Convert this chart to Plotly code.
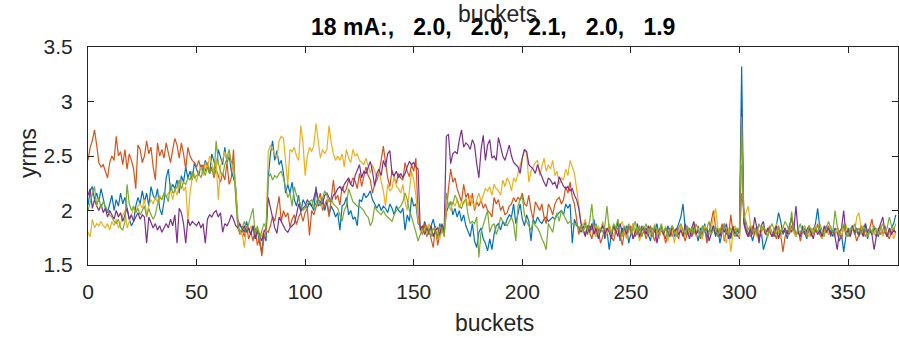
import plotly.graph_objects as go

# yrms per bucket for five current settings
blue = [
    2.05, 2.18, 2.22, 2.10, 2.16, 2.08, 2.20, 2.12, 2.02, 1.98,
    2.06, 2.14, 2.00, 2.10, 2.04, 2.16, 2.06, 2.12, 2.02, 1.92,
    1.86, 1.90, 2.04, 2.12, 2.06, 2.18, 2.08, 2.16, 2.04, 2.22,
    2.14, 2.10, 2.20, 2.02, 1.96, 2.08, 2.30, 2.38, 2.18, 2.24,
    2.20, 2.28, 2.16, 2.32, 2.26, 2.40, 2.30, 2.36, 2.28, 2.44,
    2.38, 2.32, 2.42, 2.36, 2.46, 2.40, 2.34, 2.52, 2.44, 2.38,
    2.56, 2.48, 2.42, 2.58, 2.44, 2.50, 2.36, 2.30, 2.22,
    1.92, 1.86, 1.84, 1.80, 1.90, 1.82, 1.78, 1.86, 1.74, 1.82, 1.70, 1.62, 1.78, 1.72,
    2.30, 2.52, 2.64, 2.46, 2.55, 2.42, 2.46, 2.34, 2.16, 2.24,
    2.16, 2.26, 2.10, 2.04, 2.14, 1.98, 2.10, 2.06, 2.02, 2.08,
    2.04, 2.00, 2.22, 2.04, 2.06, 2.12, 2.00, 2.08, 1.96, 2.04,
    2.00, 1.94, 1.98, 1.82, 2.04, 2.06, 2.12, 1.96, 2.00, 1.92,
    1.94, 1.86, 2.10, 2.08, 2.16, 2.12, 2.14, 2.18, 2.10, 2.06,
    2.02, 2.06, 2.00, 2.04, 2.02, 1.98, 2.06, 2.02, 1.96, 2.04,
    2.00, 1.98, 2.02, 1.82, 1.96, 1.90, 2.12, 2.04, 2.06, 1.88,
    1.86, 1.80, 1.90, 1.84, 1.78, 1.86, 1.92, 1.82, 1.76, 1.88, 1.80, 1.84,
    1.98, 2.04, 2.08, 1.96, 2.02, 1.94, 2.00, 1.90, 1.96, 1.86,
    1.80, 1.76, 1.88, 1.72, 1.66, 1.80, 1.84, 1.74, 1.70, 1.63,
    1.74, 1.64, 1.78, 1.86, 1.88, 1.82, 1.90, 1.86, 1.92, 1.96,
    1.94, 2.06, 1.88, 1.98, 2.06, 1.92, 1.86, 1.96, 1.90, 1.72,
    1.92, 1.88, 1.94, 1.90, 1.88, 1.92, 1.94, 1.90, 1.92, 1.94,
    1.92, 1.96, 1.98, 2.00, 1.96, 2.06, 2.02, 2.06, 1.70, 1.92,
    1.86, 1.84, 1.80,
    1.84, 1.90, 1.78, 1.86, 1.82, 1.92, 1.76, 1.84, 1.80, 1.88,
    1.74, 1.82, 1.64, 1.78, 1.86, 1.80, 1.90, 1.72, 1.84, 1.78,
    1.86, 1.70, 1.80, 1.88, 1.76, 1.82, 1.74, 1.86, 1.80, 1.84,
    1.78, 1.72, 1.84, 1.80, 1.88, 1.76, 1.82, 1.78, 1.74, 1.86,
    1.80, 1.84, 1.76, 1.82, 1.88, 1.94, 2.06, 1.84, 1.78, 1.82,
    1.76, 1.86, 1.80, 1.72, 1.84, 1.78, 1.88, 1.74, 1.82, 1.80,
    1.86, 1.76, 1.84, 1.70, 1.80, 1.88, 1.78, 1.82, 1.74, 1.86,
    1.80, 1.76, 1.84,
    3.32,
    1.90, 1.84, 1.76, 1.82, 1.72, 1.80, 1.86, 1.74, 1.82, 1.64,
    1.70, 1.78, 1.84, 1.80, 1.76, 1.86, 1.98, 1.90, 1.78, 1.82,
    1.74, 1.84, 1.80, 1.88, 1.76, 1.82, 1.78, 1.86, 1.80, 1.74,
    1.84, 1.78, 1.82, 1.88, 2.02, 1.84, 1.76, 1.80, 1.86, 1.78,
    1.82, 1.76, 1.84, 1.80, 1.72, 1.78, 1.62, 1.76, 1.84, 1.80,
    1.86, 1.78, 1.82, 1.76, 1.84, 1.80, 1.88, 1.74, 1.82, 1.78,
    1.84, 1.80, 1.76, 1.86, 1.78, 1.82, 1.76, 1.80, 1.84, 1.88, 1.96,
]

orange = [
    2.46, 2.58, 2.64, 2.74, 2.60, 2.44, 2.40, 2.42, 2.36, 2.30,
    2.44, 2.50, 2.46, 2.68, 2.50, 2.54, 2.42, 2.56, 2.38, 2.52,
    2.46, 2.38, 2.20, 2.60, 2.56, 2.44, 2.50, 2.64, 2.52, 2.58,
    2.40, 2.28, 2.62, 2.50, 2.56, 2.48, 2.62, 2.54, 2.44, 2.56,
    2.66, 2.60, 2.48, 2.62, 2.52, 2.38, 2.58, 2.50, 2.46, 2.44,
    2.40, 2.46, 2.38, 2.42, 2.36, 2.44, 2.34, 2.40, 2.30, 2.38,
    2.32, 2.26, 2.34, 2.28, 2.44, 2.24, 2.30, 2.56, 2.14,
    1.84, 1.78, 1.82, 1.76, 1.86, 1.74, 1.80, 1.72, 1.84, 1.68, 1.76, 1.58, 1.74, 1.82,
    1.80, 1.86, 1.95, 1.90, 2.00, 2.13, 1.90, 2.00, 1.94, 1.98,
    1.85, 1.92, 1.96, 1.87, 1.94, 1.98, 1.90, 1.98, 2.02, 1.77,
    2.00, 1.96, 2.03, 2.10, 2.16, 2.00, 2.06, 2.10, 1.94, 2.12,
    2.28, 2.10, 2.14, 2.05, 2.22, 2.16, 2.20, 2.28, 2.24, 2.30,
    2.27, 2.20, 2.34, 2.22, 2.30, 2.40, 2.32, 2.28, 2.16, 2.24,
    2.28, 2.34, 2.46, 2.59, 2.44, 2.30, 2.22, 2.37, 2.30, 2.25,
    2.34, 2.30, 2.28, 2.44, 2.36, 2.31, 2.42, 2.36, 2.48, 1.96,
    1.84, 1.78, 1.88, 1.76, 1.82, 1.74, 1.66, 1.86, 1.68, 1.78, 1.84, 1.76,
    2.02, 2.20, 2.38, 2.26, 2.30, 2.20, 2.14, 2.08, 2.24, 2.12,
    2.16, 2.04, 2.16, 2.00, 2.08, 2.04, 2.10, 2.02, 2.06, 2.00,
    1.98, 1.94, 2.12, 2.06, 2.10, 2.00, 2.04, 1.96, 1.98, 2.04,
    2.06, 2.12, 2.08, 2.12, 2.10, 2.16, 2.06, 2.04, 2.14, 2.00,
    1.92, 2.08, 2.04, 2.00, 2.06, 1.94, 1.88, 2.06, 2.02, 1.96,
    2.06, 2.10, 2.12, 2.06, 2.10, 2.22, 2.16, 2.26, 2.12, 2.06,
    1.92, 1.78, 1.86,
    1.82, 1.78, 1.86, 1.80, 1.74, 1.84, 1.78, 1.82, 1.70, 1.76,
    1.84, 1.80, 1.86, 1.76, 1.72, 1.80, 1.84, 1.78, 1.68, 1.80,
    1.76, 1.82, 1.86, 1.74, 1.80, 1.78, 1.84, 1.76, 1.82, 1.74,
    1.80, 1.86, 1.78, 1.72, 1.82, 1.76, 1.84, 1.80, 1.70, 1.78,
    1.84, 1.76, 1.82, 1.80, 1.74, 1.86, 1.78, 1.72, 1.80, 1.84,
    1.76, 1.82, 1.78, 1.86, 1.74, 1.80, 1.84, 1.70, 1.82, 1.90,
    2.00, 1.84, 1.76, 1.80, 1.88, 1.72, 1.82, 1.76, 1.96, 1.80,
    1.84, 1.78, 1.74,
    2.16,
    1.98, 1.84, 1.80, 1.76, 1.86, 1.78, 1.82, 1.74, 1.80, 1.84,
    1.78, 1.82, 1.86, 1.76, 1.80, 1.74, 1.84, 1.78, 1.62, 1.76,
    1.82, 1.78, 1.86, 1.80, 1.76, 1.84, 1.72, 1.80, 1.86, 1.78,
    1.82, 1.76, 1.84, 1.80, 1.88, 1.78, 1.74, 1.82, 1.80, 1.86,
    1.76, 1.82, 1.78, 1.84, 1.80, 1.74, 1.86, 1.78, 1.82, 1.76,
    1.84, 1.80, 1.72, 1.78, 1.86, 1.82, 1.76, 1.80, 1.84, 1.92,
    1.80, 1.76, 1.84, 1.78, 1.82, 1.86, 1.78, 1.74, 1.80, 1.84, 1.78,
]

yellow = [
    1.80, 1.76, 1.92, 1.84, 1.88, 1.86, 1.90, 1.86, 1.84, 1.88,
    1.82, 1.90, 1.86, 1.92, 1.84, 1.88, 1.96, 2.00, 1.84, 1.90,
    1.94, 2.02, 1.98, 2.04, 2.06, 2.02, 2.10, 1.96, 2.04, 2.10,
    2.06, 2.12, 2.08, 2.14, 2.10, 2.16, 2.12, 2.16, 2.18, 2.10,
    2.20, 2.14, 2.24, 2.28, 2.18, 2.22, 1.90, 2.16, 2.30, 2.34,
    2.26, 2.36, 2.40, 2.32, 2.44, 2.38, 2.50, 2.42, 2.36, 2.46,
    2.10, 2.40, 2.48, 2.54, 2.46, 2.52, 2.44, 2.38, 2.20,
    1.90, 1.80, 1.78, 1.66, 1.84, 1.80, 1.86, 1.82, 1.78, 1.84, 1.80, 1.76, 1.82, 1.80,
    2.54, 2.60, 2.56, 2.52, 2.48, 2.64, 2.68, 2.66, 2.46, 2.24,
    2.56, 2.54, 2.58, 2.50, 2.46, 2.78, 2.62, 2.32, 2.50, 2.58,
    2.54, 2.60, 2.80, 2.64, 2.48, 2.56, 2.52, 2.56, 2.78, 2.62,
    2.52, 2.46, 2.50, 2.46, 2.52, 2.40, 2.56, 2.48, 2.44, 2.56,
    2.50, 2.52, 2.46, 2.44, 2.42, 2.48, 2.40, 2.34, 2.42, 2.36,
    2.30, 2.36, 2.26, 2.18, 2.04, 2.24, 2.18, 2.20, 2.32, 2.22,
    2.20, 2.16, 2.24, 2.08, 2.00, 2.20, 2.36, 2.28, 2.14, 1.90,
    1.86, 1.80, 1.84, 1.78, 1.88, 1.82, 1.76, 1.84, 1.80, 1.74, 1.82, 1.78,
    2.02, 2.06, 2.00, 2.08, 2.04, 2.10, 2.02, 2.08, 2.06, 2.12,
    2.04, 2.14, 2.08, 2.02, 2.10, 2.16, 2.08, 2.14, 2.20, 2.18,
    2.22, 2.14, 2.24, 2.20, 2.18, 2.14, 2.28, 2.22, 2.30, 2.26,
    2.18, 2.30, 2.26, 2.34, 2.42, 2.48, 2.56, 2.52, 2.26, 2.36,
    2.40, 2.44, 2.46, 2.32, 2.40, 2.48, 2.36, 2.42, 2.38, 2.46,
    2.32, 2.36, 2.24, 2.30, 2.28, 2.38, 2.32, 2.46, 2.40, 2.34,
    2.20, 2.04, 1.90,
    1.86, 1.92, 1.82, 1.78, 1.88, 1.84, 1.76, 1.86, 1.80, 1.90,
    1.84, 1.78, 1.88, 1.82, 1.76, 1.84, 1.80, 1.86, 1.90, 1.80,
    1.74, 1.84, 1.80, 1.88, 1.78, 1.84, 1.72, 1.82, 1.86, 1.78,
    1.84, 1.76, 1.82, 1.88, 1.80, 1.74, 1.84, 1.78, 1.86, 1.72,
    1.80, 1.84, 1.70, 1.82, 1.78, 1.86, 1.80, 1.76, 1.84, 1.78,
    1.82, 1.88, 1.76, 1.84, 1.80, 1.74, 1.86, 1.82, 1.78, 1.84,
    1.92, 2.02, 1.84, 1.78, 1.82, 1.76, 1.70, 1.84, 1.62, 1.78,
    1.86, 1.80, 1.76,
    2.42,
    1.92, 1.98, 2.04, 1.88, 1.80, 1.84, 1.76, 1.82, 1.78, 1.86,
    1.80, 1.76, 1.84, 1.78, 1.82, 1.88, 1.80, 1.74, 1.86, 1.82,
    1.78, 1.84, 1.92, 1.80, 1.76, 1.84, 1.78, 1.82, 1.86, 1.80,
    1.76, 1.84, 1.80, 1.86, 1.78, 1.82, 1.74, 1.80, 1.84, 1.78,
    1.86, 1.80, 1.76, 1.84, 1.80, 1.78, 1.82, 1.88, 1.76, 1.82,
    1.86, 1.80, 1.94, 1.98, 1.84, 1.78, 1.82, 1.76, 1.84, 1.80,
    1.78, 1.84, 1.80, 1.86, 1.76, 1.82, 1.80, 1.78, 1.84, 1.74, 1.80,
]

purple = [
    2.14, 2.20, 2.02, 2.10, 2.04, 2.00, 2.06, 1.98, 2.02, 1.94,
    2.00, 1.96, 1.92, 2.00, 1.94, 1.98, 1.90, 1.96, 2.02, 1.92,
    1.96, 1.90, 1.94, 1.98, 1.92, 1.96, 1.94, 1.70, 1.94, 1.88,
    1.84, 1.88, 1.82, 1.86, 1.80, 1.84, 1.88, 1.84, 1.92, 1.86,
    1.96, 1.70, 2.02, 1.98, 1.88, 1.70, 1.92, 1.86, 1.90, 1.88,
    1.86, 1.90, 1.84, 1.88, 1.70, 1.92, 1.96, 1.94, 1.98, 2.00,
    1.94, 1.98, 1.80, 1.88, 1.86, 1.90, 1.96, 1.92, 1.86,
    1.84, 1.88, 1.82, 1.86, 1.80, 1.84, 1.78, 1.86, 1.74, 1.82, 1.78, 1.72, 1.80, 1.84,
    2.12, 2.02, 1.92, 1.84, 1.79, 1.94, 1.90, 1.86, 1.82, 1.80,
    1.84, 1.86, 1.88, 1.96, 2.06, 2.00, 2.02, 2.04, 2.10, 2.06,
    2.04, 2.12, 2.19, 2.10, 2.08, 2.06, 2.14, 2.16, 2.12, 2.08,
    2.14, 2.16, 2.20, 2.22, 2.18, 2.24, 2.27, 2.30, 2.24, 2.22,
    2.32, 2.38, 2.42, 2.30, 2.36, 2.34, 2.40, 2.45, 2.36, 2.22,
    2.34, 2.38, 2.32, 2.46, 2.40, 2.52, 2.55, 2.34, 2.32, 2.36,
    2.30, 2.34, 2.30, 2.34, 2.40, 2.45, 2.42, 2.44, 2.40, 2.38,
    1.82, 1.86, 1.78, 1.84, 1.80, 1.86, 1.76, 1.82, 1.84, 1.78, 1.88, 1.80,
    2.68, 2.70, 2.43, 2.52, 2.54, 2.52, 2.65, 2.74, 2.58, 2.62,
    2.60, 2.56, 2.65, 2.60, 2.43, 2.30, 2.56, 2.69, 2.46, 2.60,
    2.65, 2.48, 2.50, 2.46, 2.67, 2.58, 2.50, 2.46, 2.52, 2.60,
    2.50, 2.44, 2.42, 2.40, 2.34, 2.48, 2.56, 2.54, 2.42, 2.40,
    2.38, 2.34, 2.42, 2.36, 2.30, 2.26, 2.22, 2.30, 2.28, 2.24,
    2.26, 2.20, 2.31, 2.26, 2.22, 2.20, 2.22, 2.18, 2.20, 2.14,
    2.10, 2.02, 1.88,
    1.82, 1.76, 1.86, 1.80, 1.88, 1.78, 1.84, 1.74, 1.82, 1.86,
    1.78, 1.84, 1.80, 1.74, 1.86, 1.82, 1.76, 1.88, 1.80, 1.84,
    1.78, 1.86, 1.82, 1.74, 1.80, 1.88, 1.76, 1.82, 1.84, 1.78,
    1.86, 1.80, 1.76, 1.84, 1.70, 1.82, 1.86, 1.78, 1.84, 1.80,
    1.76, 1.86, 1.80, 1.84, 1.78, 1.82, 1.76, 1.88, 1.80, 1.74,
    1.84, 1.90, 1.78, 1.82, 1.76, 1.86, 1.80, 1.84, 1.72, 1.80,
    1.86, 1.78, 1.82, 1.76, 1.84, 1.80, 1.88, 1.74, 1.80, 1.84,
    1.78, 1.82, 1.80,
    2.92,
    1.88, 1.80, 1.76, 1.84, 1.78, 1.94, 1.84, 1.70, 1.86, 1.90,
    1.78, 1.84, 1.80, 1.76, 1.82, 1.86, 1.74, 1.82, 1.80, 1.84,
    1.78, 1.86, 1.94, 1.82, 2.04, 1.80, 1.76, 1.84, 1.78, 1.82,
    1.86, 1.80, 1.74, 1.84, 1.78, 1.82, 1.76, 1.86, 1.80, 1.84,
    1.78, 1.82, 1.76, 1.64, 1.80, 1.84, 2.00, 1.78, 1.82, 1.76,
    1.86, 1.80, 1.84, 1.78, 1.82, 1.76, 1.88, 1.80, 1.84, 1.78,
    1.64, 1.76, 1.82, 1.86, 1.94, 1.80, 1.76, 1.84, 1.78, 1.82, 1.80,
]

green = [
    2.00, 2.08, 2.14, 2.22, 2.04, 2.12, 2.02, 2.08, 2.04, 2.00,
    1.96, 1.94, 1.90, 1.88, 1.92, 1.84, 1.82, 1.90, 2.24, 2.06,
    2.00, 2.04, 1.98, 2.02, 1.96, 2.00, 2.04, 1.94, 2.02, 1.96,
    1.92, 1.96, 2.06, 2.12, 2.10, 2.16, 2.14, 2.08, 2.25, 2.16,
    2.18, 2.22, 2.28, 2.20, 2.26, 2.24, 2.30, 2.28, 2.36, 2.30,
    2.32, 2.34, 2.30, 2.38, 2.32, 2.40, 2.34, 2.38, 2.32, 2.64,
    2.44, 2.36, 2.32, 2.42, 2.48, 2.56, 2.44, 2.46, 2.12,
    1.86, 1.80, 1.84, 1.90, 1.82, 1.88, 1.96, 2.02, 1.78, 1.86, 1.74, 1.80, 1.88, 1.84,
    2.30, 2.34, 2.28, 2.32, 2.30, 2.34, 2.36, 2.30, 2.20, 2.12,
    2.16, 2.04, 2.22, 2.14, 2.10, 2.04, 2.00, 2.02, 2.06, 2.08,
    2.10, 2.02, 2.08, 2.12, 2.04, 2.10, 2.18, 2.14, 2.08, 2.10,
    2.06, 2.04, 2.02, 1.96, 1.90, 2.00, 2.04, 2.20, 2.14, 2.08,
    2.06, 2.04, 2.04, 2.02, 2.00, 1.96, 1.94, 1.86, 1.90, 2.04,
    2.00, 1.98, 1.96, 2.00, 1.96, 1.94, 1.92, 1.90, 1.96, 2.00,
    2.02, 2.04, 2.08, 2.16, 2.10, 2.00, 1.94, 1.88, 1.80, 1.72,
    1.78, 1.84, 1.80, 1.86, 1.82, 1.76, 1.84, 1.80, 1.74, 1.86, 1.82, 1.78,
    2.16, 2.04, 2.08, 2.06, 2.14, 2.10, 2.04, 2.02, 2.08, 2.10,
    1.96, 1.88, 1.90, 1.88, 1.94, 1.57, 1.80, 1.86, 1.92, 2.00,
    1.80, 1.86, 1.88, 1.78, 1.84, 1.94, 1.90, 1.88, 1.86, 1.90,
    1.94, 1.88, 1.72, 2.04, 2.10, 2.13, 1.96, 1.90, 1.86, 1.82,
    1.90, 1.86, 1.84, 1.80, 1.74, 1.70, 1.64, 1.88, 1.84, 1.80,
    1.92, 1.98, 1.90, 2.00, 1.96, 1.92, 1.88, 1.90, 1.88, 1.86,
    1.88, 1.84, 1.86,
    1.80, 1.86, 1.82, 1.90, 2.06, 1.84, 1.88, 1.78, 1.84, 1.80,
    1.86, 2.04, 1.82, 1.78, 1.88, 1.84, 1.92, 1.80, 1.76, 1.86,
    1.82, 1.88, 1.78, 1.84, 1.90, 1.80, 1.86, 1.76, 1.82, 1.88,
    1.80, 1.84, 1.76, 1.86, 1.82, 1.78, 1.88, 1.80, 1.84, 1.76,
    1.82, 1.86, 1.80, 1.76, 1.84, 1.88, 1.82, 1.78, 1.86, 1.80,
    1.84, 1.78, 1.88, 1.82, 1.76, 1.86, 1.80, 1.84, 1.90, 1.78,
    1.82, 1.86, 1.76, 1.84, 1.80, 1.88, 1.82, 1.78, 1.84, 1.80,
    1.76, 1.84, 1.80,
    2.86,
    1.94, 1.90, 1.82, 1.86, 1.80, 1.84, 1.78, 1.88, 1.82, 1.86,
    1.80, 1.76, 1.84, 1.88, 1.82, 1.78, 1.86, 1.80, 1.84, 1.90,
    1.86, 1.80, 1.99, 1.84, 1.78, 1.82, 1.88, 1.80, 1.84, 1.76,
    1.86, 1.82, 1.78, 1.84, 1.80, 1.88, 1.82, 1.76, 1.84, 1.90,
    1.84, 1.80, 2.00, 1.86, 1.78, 1.82, 1.88, 1.80, 1.76, 1.84,
    1.82, 1.88, 1.80, 1.84, 1.78, 1.86, 1.82, 1.76, 1.84, 1.80,
    1.86, 1.82, 1.78, 1.84, 1.88, 1.80, 1.84, 1.94, 1.86, 1.82, 1.88,
]

series = [blue, orange, yellow, purple, green]
colors = ["#0072BD", "#D95319", "#EDB120", "#7E2F8E", "#77AC30"]
lens = [len(s) for s in series]
assert all(n == 373 for n in lens), lens

buckets = list(range(373))
title_vals = ["2.0", "2.0", "2.1", "2.0", "1.9"]
xticks = [0, 50, 100, 150, 200, 250, 300, 350]
yticks = [1.5, 2, 2.5, 3, 3.5]

fig = go.Figure()
for vals, col in zip(series, colors):
    fig.add_trace(go.Scatter(x=buckets, y=vals, mode="lines",
                             line=dict(color=col, width=1.2), hoverinfo="skip"))

axis_col = "#262626"
common = dict(showline=True, linecolor=axis_col, linewidth=1, mirror="ticks",
              ticks="inside", ticklen=6, tickwidth=1, tickcolor=axis_col,
              showgrid=False, zeroline=False,
              tickfont=dict(family="Liberation Sans, Arial", size=21, color=axis_col))

fig.update_xaxes(range=[0, 373], tickvals=xticks, ticklabelstandoff=8, **common)
fig.update_yaxes(range=[1.5, 3.5], tickvals=yticks,
                 ticktext=[f"{v:g}" for v in yticks], ticklabelstandoff=10, **common)

sp = "\u00a0" * 3
title = "18 mA:," + sp + ("," + sp).join(title_vals)

fig.update_layout(
    width=899, height=338,
    margin=dict(l=88, r=1, t=47, b=73, autoexpand=False),
    plot_bgcolor="white", paper_bgcolor="white", showlegend=False,
    font=dict(family="Liberation Sans, Arial", color=axis_col),
    annotations=[
        dict(text="<b>" + title + "</b>", x=0.5, y=1.0917, xref="paper", yref="paper",
             xanchor="center", yanchor="middle", showarrow=False,
             font=dict(size=23, color="#000000")),
        dict(text="buckets", x=0.505, y=1.152, xref="paper", yref="paper",
             xanchor="center", yanchor="middle", showarrow=False,
             font=dict(size=23, color=axis_col)),
        dict(text="buckets", x=0.502, y=-0.266, xref="paper", yref="paper",
             xanchor="center", yanchor="middle", showarrow=False,
             font=dict(size=23, color=axis_col)),
        dict(text="yrms", x=-0.074, y=0.514, xref="paper", yref="paper",
             xanchor="center", yanchor="middle", textangle=-90, showarrow=False,
             font=dict(size=23, color=axis_col)),
    ],
)

fig.write_html("out.html")
